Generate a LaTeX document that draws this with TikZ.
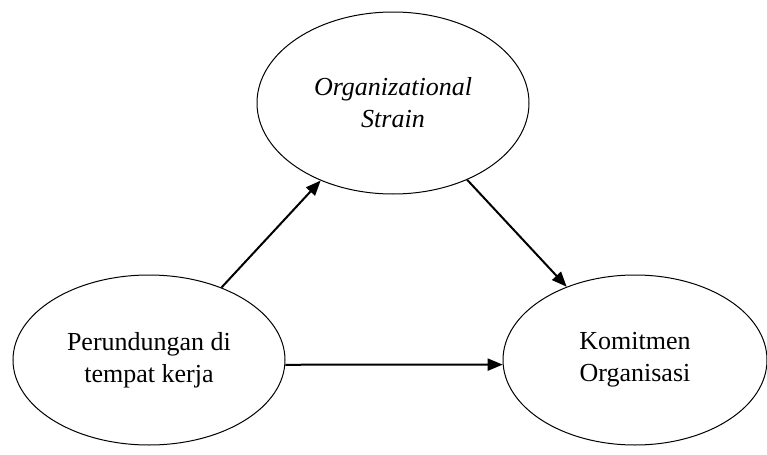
\documentclass[tikz,border=0pt]{standalone}
\usepackage{fontspec}
\setmainfont{Liberation Serif}
\usepackage{tikz}
\usetikzlibrary{shapes.geometric}
\usetikzlibrary{arrows.meta}

\begin{document}
\begin{tikzpicture}[x=0.5pt,y=-0.5pt]
    \tikzset{construct/.style={ellipse, draw, line width=0.5pt, inner sep=0pt, align=center, font=\fontsize{13}{16}\selectfont}};
    \tikzset{path/.style={line width=1pt, -{Triangle[length=7.5pt,width=6pt]}}};
%%
\useasboundingbox (0,0) rectangle (767,455);
\node (os) at (393,103) [construct, minimum width=136pt, minimum height=91pt] {\textit{Organizational}\\\textit{Strain}};
  \node (pt) at (149,360) [construct, minimum width=136pt, minimum height=85pt] {Perundungan di\\tempat kerja};
  \node (ko) at (635,360) [construct, minimum width=132pt, minimum height=85pt] {Komitmen\\Organisasi};

  \draw [path] (pt.45) -- (os.227);
  \draw [path] (os.314) -- (ko.133);
  \draw [path] (pt.-2.5) -- (ko.182.5);
\end{tikzpicture}
\end{document}
